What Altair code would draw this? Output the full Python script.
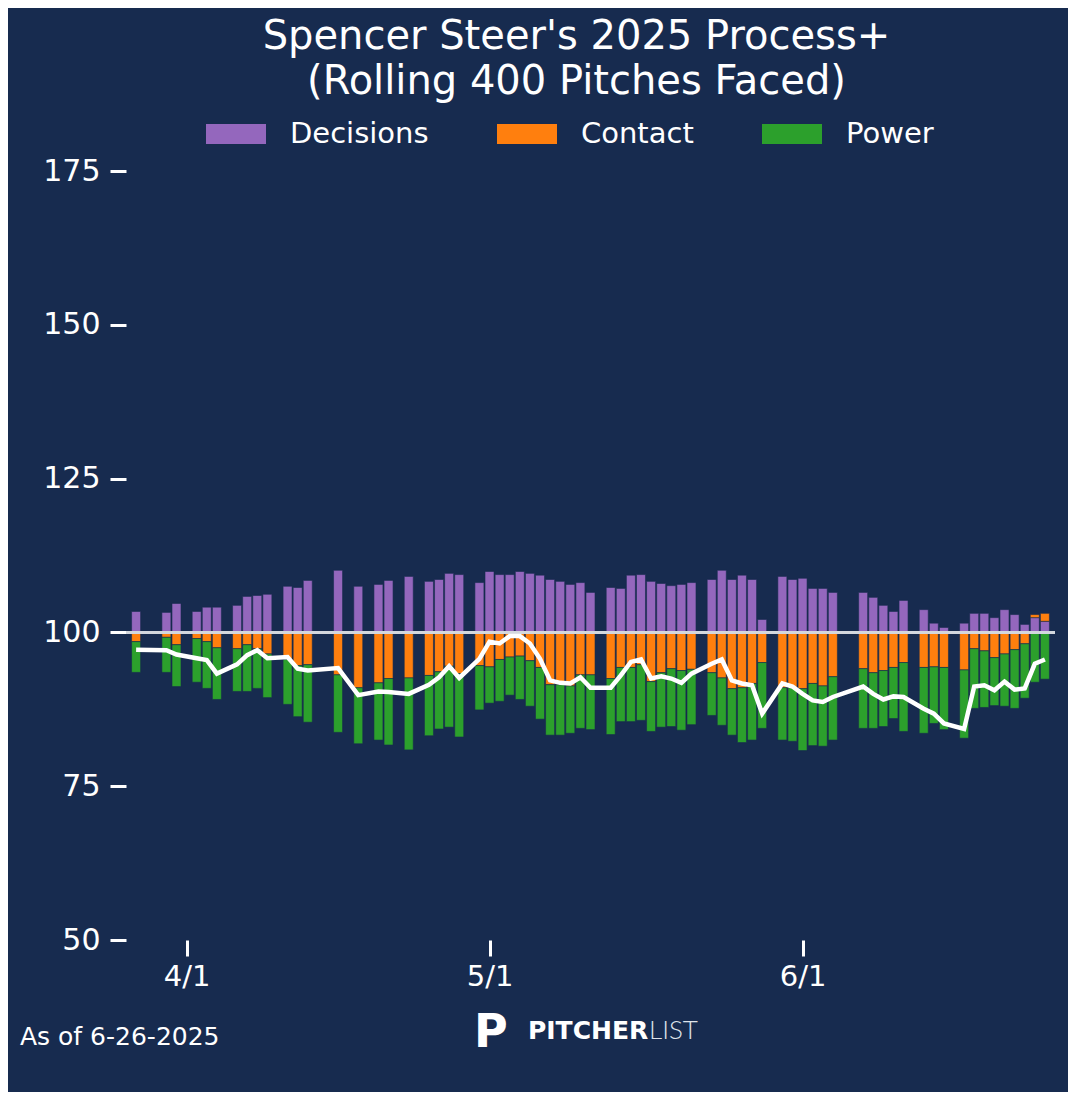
import pandas as pd
import altair as alt

# game dates and Process+ component deviations from 100
dates = ["2025-03-27", "2025-03-30", "2025-03-31", "2025-04-02", "2025-04-03", "2025-04-04",
         "2025-04-06", "2025-04-07", "2025-04-08", "2025-04-09", "2025-04-11", "2025-04-12",
         "2025-04-13", "2025-04-16", "2025-04-18", "2025-04-20", "2025-04-21", "2025-04-23",
         "2025-04-25", "2025-04-26", "2025-04-27", "2025-04-28", "2025-04-30", "2025-05-01",
         "2025-05-02", "2025-05-03", "2025-05-04", "2025-05-05", "2025-05-06", "2025-05-07",
         "2025-05-08", "2025-05-09", "2025-05-10", "2025-05-11", "2025-05-13", "2025-05-14",
         "2025-05-15", "2025-05-16", "2025-05-17", "2025-05-18", "2025-05-19", "2025-05-20",
         "2025-05-21", "2025-05-23", "2025-05-24", "2025-05-25", "2025-05-26", "2025-05-27",
         "2025-05-28", "2025-05-30", "2025-05-31", "2025-06-01", "2025-06-02", "2025-06-03",
         "2025-06-04", "2025-06-07", "2025-06-08", "2025-06-09", "2025-06-10", "2025-06-11",
         "2025-06-13", "2025-06-14", "2025-06-15", "2025-06-17", "2025-06-18", "2025-06-19",
         "2025-06-20", "2025-06-21", "2025-06-22", "2025-06-23", "2025-06-24", "2025-06-25"]

decisions = [3.4, 3.25, 4.7, 3.4, 4.1, 4.1, 4.4, 5.85, 6.0, 6.2, 7.5, 7.3,
             8.45, 10.1, 7.5, 7.8, 8.45, 9.1, 8.3, 8.6, 9.6, 9.4, 8.1, 9.9,
             9.4, 9.4, 9.9, 9.6, 9.3, 8.6, 8.3, 7.8, 8.1, 6.5, 7.3, 7.15,
             9.3, 9.4, 8.3, 7.95, 7.6, 7.8, 8.1, 8.6, 10.1, 8.6, 9.3, 8.6,
             2.1, 9.1, 8.6, 8.8, 7.15, 7.15, 6.5, 6.5, 5.7, 4.4, 3.4, 5.2,
             3.7, 1.5, 0.8, 1.5, 3.1, 3.1, 2.4, 3.7, 2.9, 1.3, 2.4, 1.8]

contact = [-1.5, -0.8, -2.0, -1.0, -1.5, -2.5, -2.65, -2.0, -2.65, -3.5, -4.4, -5.4,
           -5.25, -6.9, -9.0, -8.2, -7.5, -7.4, -7.0, -6.4, -5.5, -6.7, -5.4, -5.6,
           -4.4, -4.0, -3.85, -4.6, -5.7, -8.5, -8.5, -8.7, -6.9, -6.9, -7.5, -5.7,
           -5.7, -5.25, -8.0, -6.55, -5.9, -6.2, -6.0, -6.55, -7.4, -9.15, -9.0, -8.3,
           -4.9, -9.0, -9.0, -9.15, -8.3, -8.7, -7.2, -5.9, -6.55, -6.2, -5.7, -4.9,
           -5.7, -5.6, -5.7, -6.1, -2.65, -3.0, -4.1, -3.5, -2.8, -1.85, 0.5, 1.3]

power = [-5.0, -5.7, -6.8, -7.1, -7.6, -8.4, -6.95, -7.6, -6.45, -7.1, -7.3, -8.3,
         -9.35, -9.35, -9.1, -9.3, -10.8, -11.7, -9.8, -9.3, -9.9, -10.3, -7.2, -5.9,
         -6.8, -6.2, -7.05, -7.4, -8.4, -8.2, -8.2, -7.7, -8.7, -8.9, -9.1, -8.8,
         -8.8, -9.05, -8.1, -8.85, -9.4, -9.7, -9.0, -6.95, -7.7, -7.55, -8.9, -9.2,
         -10.7, -8.5, -8.7, -10.05, -10.1, -9.8, -10.3, -9.7, -9.05, -9.1, -8.3, -11.2,
         -10.7, -9.2, -10.1, -11.1, -9.7, -9.2, -7.8, -8.5, -9.55, -8.85, -8.1, -7.6]

process_plus = [97.2, 97.1, 96.4, 95.8, 95.5, 93.3, 94.8, 96.3, 97.1, 95.8, 96.0, 94.1,
                93.8, 94.2, 89.8, 90.4, 90.3, 90.0, 91.5, 92.7, 94.5, 92.6, 95.7, 98.5,
                98.2, 99.4, 99.4, 98.2, 95.7, 92.2, 91.8, 91.7, 92.7, 91.0, 91.0, 93.0,
                95.2, 95.6, 92.5, 92.85, 92.5, 91.8, 93.3, 94.9, 95.6, 92.2, 91.7, 91.4,
                86.8, 91.7, 91.2, 90.0, 88.95, 88.7, 89.5, 91.2, 90.0, 89.1, 89.6, 89.5,
                87.6, 86.8, 85.2, 84.3, 91.2, 91.4, 90.6, 92.0, 90.7, 90.9, 94.9, 95.6]

BG = "#172b4f"
FONT = "DejaVu Sans"

parts = []
for name, vals, k in [("Decisions", decisions, 0), ("Contact", contact, 1), ("Power", power, 2)]:
    parts.append(pd.DataFrame({"date": dates, "component": name, "value": vals, "order": k}))
bars_df = pd.concat(parts)
line_df = pd.DataFrame({"date": dates, "process": process_plus})
one = pd.DataFrame({"a": [0]})

x_scale = alt.Scale(type="utc", padding=0,
                    domain=[alt.DateTime(year=2025, month=3, date=26, utc=True),
                            alt.DateTime(year=2025, month=6, date=26, utc=True)])
y_scale = alt.Scale(domain=[-50, 75], nice=False)

sym = "M-1,-0.333H1V0.333H-1Z"

bars = alt.Chart(bars_df).mark_bar(size=9, stroke=BG, strokeWidth=0.6).encode(
    x=alt.X("date:T", scale=x_scale, title=None,
            axis=alt.Axis(values=[alt.DateTime(year=2025, month=4, date=1, utc=True),
                                  alt.DateTime(year=2025, month=5, date=1, utc=True),
                                  alt.DateTime(year=2025, month=6, date=1, utc=True)],
                          labelExpr="utcFormat(datum.value, '%-m/%-d')",
                          tickSize=16, tickWidth=3, tickColor="white", domain=False, grid=False,
                          labelFontSize=29, labelColor="white", labelPadding=6, labelFont=FONT)),
    y=alt.Y("value:Q", scale=y_scale, stack="zero", title=None,
            axis=alt.Axis(values=[-50, -25, 0, 25, 50, 75], labelExpr="datum.value + 100",
                          tickSize=16, tickWidth=3, tickColor="white", domain=False, grid=False,
                          labelFontSize=30, labelColor="white", labelPadding=10, labelFont=FONT)),
    color=alt.Color("component:N",
                    scale=alt.Scale(domain=["Decisions", "Contact", "Power"],
                                    range=["#9467bd", "#ff7f0e", "#2ca02c"]),
                    legend=alt.Legend(title=None, orient="none", legendX=80, legendY=-67,
                                      direction="horizontal", columns=3, columnPadding=68,
                                      symbolType=sym, symbolSize=3600, symbolStrokeWidth=0,
                                      labelFontSize=29, labelColor="white", labelFont=FONT,
                                      labelOffset=24)),
    order=alt.Order("order:Q"),
)

rule = alt.Chart(one).mark_rule(color="#d3d7de", strokeWidth=3).encode(y=alt.datum(0))

line = alt.Chart(line_df).transform_calculate(dev="datum.process - 100").mark_line(
    color="white", strokeWidth=4.5).encode(x="date:T", y="dev:Q")

note = alt.Chart(one).mark_text(align="left", baseline="middle", fontSize=25,
                                color="white", font=FONT).encode(
    x=alt.value(-106), y=alt.value(866), text=alt.value("As of 6-26-2025"))
logo1 = alt.Chart(one).mark_text(align="left", baseline="middle", fontSize=25,
                                 fontWeight="bold", color="white", font=FONT).encode(
    x=alt.value(402), y=alt.value(860), text=alt.value("PITCHER"))
logo2 = alt.Chart(one).mark_text(align="left", baseline="middle", fontSize=26,
                                 fontWeight=300, color="#dfe3ea", font="Lato").encode(
    x=alt.value(523), y=alt.value(860), text=alt.value("LIST"))
logo_p = alt.Chart(one).mark_text(align="left", baseline="middle", fontSize=46,
                                  fontWeight="bold", color="white", font=FONT).encode(
    x=alt.value(348), y=alt.value(862), text=alt.value("P"))

chart = alt.layer(bars, rule, line, note, logo_p, logo1, logo2).properties(
    width=929, height=769,
    autosize=alt.AutoSizeParams(type="none"),
    padding={"left": 118, "top": 163, "right": 13, "bottom": 152},
    background=BG,
    title=alt.Title(["Spencer Steer's 2025 Process+", "(Rolling 400 Pitches Faced)"],
                    fontSize=40, fontWeight="normal", color="white", font=FONT,
                    lineHeight=45, anchor="middle", dx=-14, offset=2),
).configure_view(stroke=None)

chart.save("out.html", embed_options={"renderer": "svg", "actions": False})
